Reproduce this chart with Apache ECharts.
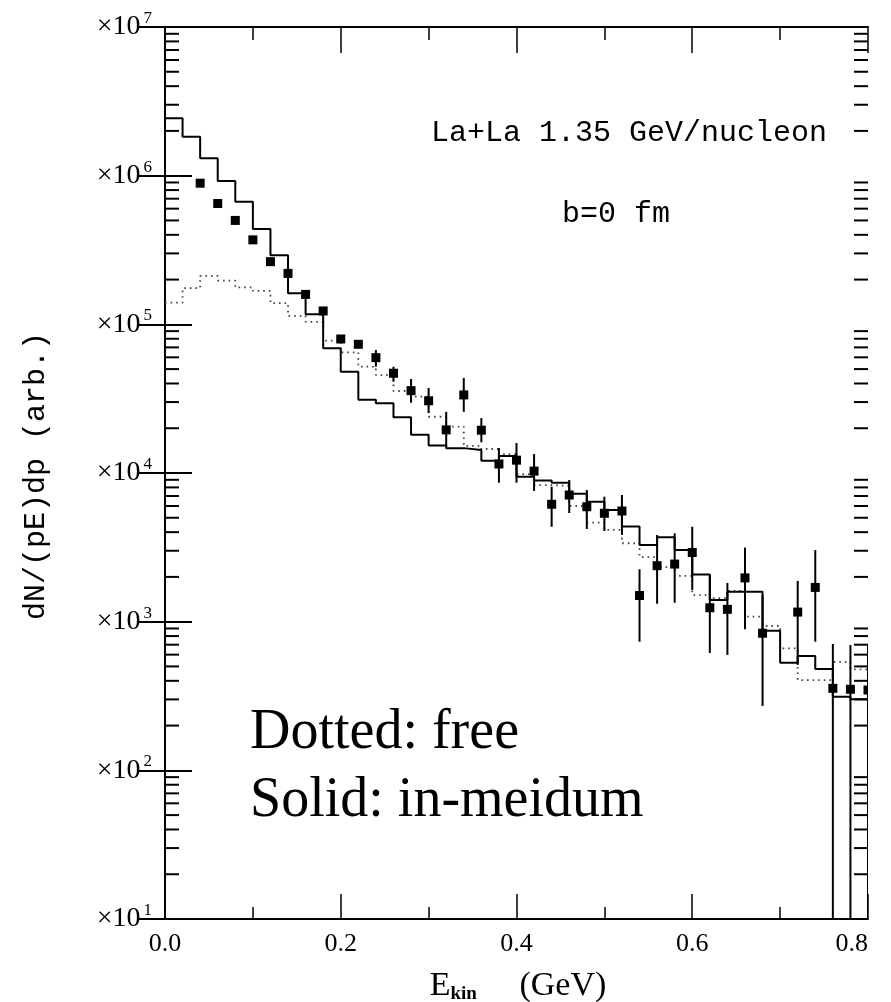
<!DOCTYPE html>
<html><head><meta charset="utf-8">
<script src="https://cdn.jsdelivr.net/npm/echarts@6/dist/echarts.min.js"></script>
<style>html,body{margin:0;padding:0;background:#fff}#c{width:891px;height:1002px}</style>
</head><body><div id="c"></div>
<script>
// ---- data ----
const binEdges = [0.00,0.02,0.04,0.06,0.08,0.10,0.12,0.14,0.16,0.18,0.20,0.22,0.24,0.26,0.28,0.30,0.32,0.34,0.36,0.38,0.40,
                  0.42,0.44,0.46,0.48,0.50,0.52,0.54,0.56,0.58,0.60,0.62,0.64,0.66,0.68,0.70,0.72,0.74,0.76,0.78,0.80];
const solidInMedium = [2.43e6,1.83e6,1.31e6,9.2e5,6.68e5,4.38e5,2.92e5,1.62e5,1.17e5,6.9e4,
                       4.8e4,3.11e4,2.94e4,2.37e4,1.81e4,1.53e4,1.47e4,1.43e4,1.21e4,1.30e4,
                       9.44e3,8.91e3,8.61e3,7.26e3,6.40e3,5.64e3,4.36e3,3.28e3,3.70e3,3.03e3,
                       2.08e3,1.40e3,1.59e3,1.59e3,869,530,587,481,313,301];
const dottedFree = [1.40e5,1.75e5,2.12e5,1.97e5,1.77e5,1.68e5,1.39e5,1.14e5,1.04e5,7.76e4,
                    6.48e4,5.19e4,4.56e4,3.56e4,3.26e4,2.39e4,2.05e4,1.52e4,1.45e4,1.34e4,
                    9.84e3,8.30e3,8.17e3,6.00e3,4.63e3,4.14e3,3.37e3,2.72e3,2.33e3,2.03e3,
                    1.51e3,1.44e3,1.61e3,1.08e3,935,661,405,405,536,477];
const dataX = [0.04,0.06,0.08,0.10,0.12,0.14,0.16,0.18,0.20,0.22,0.24,0.26,0.28,0.30,0.32,0.34,0.36,0.38,0.40,0.42,
               0.44,0.46,0.48,0.50,0.52,0.54,0.56,0.58,0.60,0.62,0.64,0.66,0.68,0.72,0.74,0.76,0.78,0.80];
const dataY = [8.9e5,6.5e5,5.0e5,3.7e5,2.64e5,2.2e5,1.59e5,1.23e5,7.97e4,7.34e4,
               5.97e4,4.69e4,3.58e4,3.06e4,1.95e4,3.35e4,1.94e4,1.15e4,1.22e4,1.03e4,
               6.16e3,7.11e3,5.93e3,5.36e3,5.55e3,1.50e3,2.38e3,2.44e3,2.92e3,1.24e3,
               1.21e3,1.97e3,836,1.16e3,1.70e3,356,351,347];
const errHi = [null,null,null,null,null,null,null,null,null,null,
               6.72e4,5.19e4,4.29e4,3.73e4,2.58e4,4.36e4,2.34e4,1.47e4,1.59e4,1.34e4,
               8.09e3,8.97e3,7.69e3,6.93e3,7.11e3,2.25e3,3.83e3,3.93e3,4.35e3,2.06e3,
               1.82e3,3.15e3,1.51e3,1.88e3,3.03e3,708,697,700];
const errLo = [null,null,null,null,null,null,null,null,null,null,
               5.19e4,4.11e4,2.97e4,2.53e4,1.50e4,2.58e4,1.61e4,8.6e3,8.6e3,7.57e3,
               4.35e3,5.38e3,4.20e3,4.07e3,3.83e3,733,1.32e3,1.34e3,1.63e3,615,
               597,889,271,512,733,5,5,5];
const xTicks = [0, 0.8, 0.2];        // min, max, major interval
const yRange = [1e1, 1e7];
const minorDigits = [2,3,4,5,6,7,8,9];
const decades = [1e1,1e2,1e3,1e4,1e5,1e6];
const yTitle = 'dN/(pE)dp (arb.)';
const annot1 = 'La+La 1.35 GeV/nucleon';
const annot2 = 'b=0 fm';
const legend1 = 'Dotted: free';
const legend2 = 'Solid: in-meidum';

// ---- build ----
const histo = vals => binEdges.map((x, i) => [x, vals[Math.min(i, vals.length - 1)]]);
const pts = dataX.map((x, i) => [x, dataY[i], errLo[i] == null ? NaN : errLo[i], errHi[i] == null ? NaN : errHi[i]]);
const minorVals = [];
decades.forEach(d => minorDigits.forEach(m => minorVals.push([xTicks[0], d * m])));

const SERIF = 'Liberation Serif';
const MONO = 'Liberation Mono';

const chart = echarts.init(document.getElementById('c'), null, {renderer: 'canvas'});
const axisCommon = {
  axisLine: {show: true, lineStyle: {color: '#000', width: 2}},
  splitLine: {show: false}
};
chart.setOption({
  animation: false,
  backgroundColor: '#fff',
  grid: {left: 165, right: 23, top: 27, bottom: 83},
  xAxis: [
    Object.assign({
      type: 'value', min: xTicks[0], max: xTicks[1], interval: xTicks[2], position: 'bottom',
      axisTick: {show: true, inside: true, length: 25, lineStyle: {color: '#000', width: 1.5}},
      minorTick: {show: true, splitNumber: 2, length: 12, lineStyle: {color: '#000', width: 1.5}},
      minorSplitLine: {show: false},
      axisLabel: {formatter: v => v.toFixed(1), fontFamily: SERIF, fontSize: 26, color: '#000', margin: 12,
                  showMinLabel: true, showMaxLabel: true, alignMaxLabel: 'right'}
    }, axisCommon),
    Object.assign({
      type: 'value', min: xTicks[0], max: xTicks[1], interval: xTicks[2], position: 'top',
      axisTick: {show: true, inside: true, length: 26, lineStyle: {color: '#000', width: 1.5}},
      minorTick: {show: true, splitNumber: 2, length: 13, lineStyle: {color: '#000', width: 1.5}},
      minorSplitLine: {show: false},
      axisLabel: {show: false}
    }, axisCommon)
  ],
  yAxis: [
    Object.assign({
      type: 'log', logBase: 10, min: yRange[0], max: yRange[1], splitNumber: 6, position: 'left',
      axisTick: {show: true, inside: true, length: 27, lineStyle: {color: '#000', width: 2}},
      axisLabel: {
        margin: 13,
        formatter: v => '{b|×10}{s|' + Math.round(Math.log10(v)) + '}',
        rich: {
          b: {fontFamily: SERIF, fontSize: 28, color: '#000', lineHeight: 34},
          s: {fontFamily: SERIF, fontSize: 17, color: '#000', verticalAlign: 'top', lineHeight: 18, padding: [0, 0, 0, 3]}
        }
      }
    }, axisCommon),
    Object.assign({
      type: 'log', logBase: 10, min: yRange[0], max: yRange[1], splitNumber: 6, position: 'right',
      axisTick: {show: true, inside: true, length: 27, lineStyle: {color: '#000', width: 2}},
      axisLabel: {show: false}
    }, axisCommon)
  ],
  series: [
    {
      type: 'line', name: 'free', data: histo(dottedFree), step: 'end', showSymbol: false, symbol: 'none',
      lineStyle: {color: '#444', width: 1.8, type: [1.6, 4], cap: 'butt'}, z: 3
    },
    {
      type: 'line', name: 'in-medium', data: histo(solidInMedium), step: 'end', showSymbol: false, symbol: 'none',
      lineStyle: {color: '#000', width: 2}, z: 4
    },
    {
      type: 'custom', name: 'data', data: pts, clip: true, z: 5,
      encode: {x: 0, y: 1},
      renderItem: (params, api) => {
        const x = api.value(0), y = api.value(1), lo = api.value(2), hi = api.value(3);
        const c = api.coord([x, y]);
        const ch = [];
        if (isFinite(lo) && isFinite(hi)) {
          const a = api.coord([x, hi]), b = api.coord([x, lo]);
          ch.push({type: 'line', shape: {x1: a[0], y1: a[1], x2: b[0], y2: b[1]}, style: {stroke: '#000', lineWidth: 2}});
        }
        ch.push({type: 'rect', shape: {x: c[0] - 4.5, y: c[1] - 4.5, width: 9, height: 9}, style: {fill: '#000'}});
        return {type: 'group', children: ch};
      }
    },
    {
      type: 'custom', name: 'minorTicks', data: minorVals, z: 6, silent: true,
      encode: {x: 0, y: 1},
      renderItem: (params, api) => {
        const v = api.value(1);
        const l = api.coord([xTicks[0], v]), r = api.coord([xTicks[1], v]);
        return {type: 'group', children: [
          {type: 'line', shape: {x1: l[0], y1: l[1], x2: l[0] + 14, y2: l[1]}, style: {stroke: '#000', lineWidth: 2}},
          {type: 'line', shape: {x1: r[0], y1: r[1], x2: r[0] - 14, y2: r[1]}, style: {stroke: '#000', lineWidth: 2}}
        ]};
      }
    }
  ],
  graphic: [
    {type: 'text', left: 431, top: 118, style: {text: annot1, font: '30px "' + MONO + '"', fill: '#000'}},
    {type: 'text', left: 562, top: 199, style: {text: annot2, font: '30px "' + MONO + '"', fill: '#000'}},
    {type: 'text', x: 36, y: 476, rotation: Math.PI / 2,
     style: {text: yTitle, font: '30px "' + MONO + '"', fill: '#000', align: 'center', verticalAlign: 'middle'}},
    {type: 'text', x: 518, y: 986,
     style: {text: '{e|E}{k|kin}{g|     (GeV)}', align: 'center', verticalAlign: 'middle',
       rich: {
         e: {fontFamily: SERIF, fontSize: 34, fill: '#000', lineHeight: 36},
         k: {fontFamily: SERIF, fontWeight: 'bold', fontSize: 19, fill: '#000', verticalAlign: 'bottom', lineHeight: 18},
         g: {fontFamily: SERIF, fontSize: 34, fill: '#000', lineHeight: 36}
       }}},
    {type: 'text', x: 250, y: 733, style: {text: legend1, font: '56px "' + SERIF + '"', fill: '#000', verticalAlign: 'middle'}},
    {type: 'text', x: 250, y: 801, style: {text: legend2, font: '56px "' + SERIF + '"', fill: '#000', verticalAlign: 'middle'}}
  ]
});
</script>
</body></html>
